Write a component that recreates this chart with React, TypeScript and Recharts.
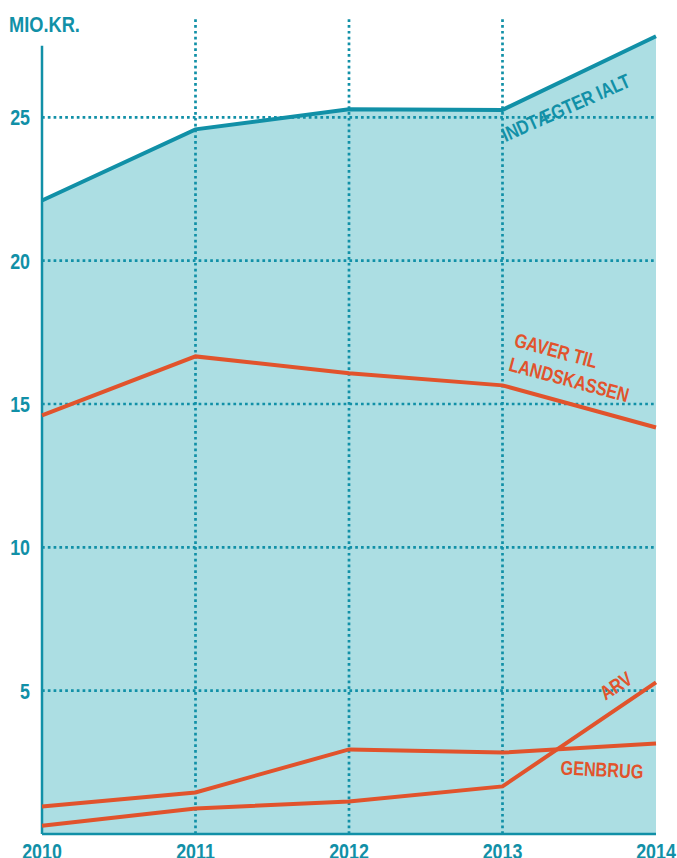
import React from "react";
import { ComposedChart, Area, Line, XAxis, YAxis, ReferenceLine } from "recharts";

const years = [2010, 2011, 2012, 2013, 2014];
const indtaegterIalt = [22.1, 24.58, 25.28, 25.26, 27.83];
const gaverTilLandskassen = [14.6, 16.66, 16.07, 15.65, 14.18];
const arv = [0.29, 0.89, 1.13, 1.66, 5.29];
const genbrug = [0.96, 1.45, 2.95, 2.84, 3.16];

const yTicks = [5, 10, 15, 20, 25];
const xGridYears = [2011, 2012, 2013];

const data = years.map((year, i) => ({
  year,
  indtaegter: indtaegterIalt[i],
  gaver: gaverTilLandskassen[i],
  arv: arv[i],
  genbrug: genbrug[i],
}));

const TEAL = "#1190a7";
const FILL = "#acdee3";
const ORANGE = "#e1532c";
const FONT = "'Liberation Sans', Arial, sans-serif";
const SX = 0.81;

const XTick = (props: any) => {
  const { x, payload } = props;
  return (
    <g transform={`translate(${x},859) scale(${SX},1)`}>
      <text x={0} y={0} textAnchor="middle" fill={TEAL} fontSize={22} fontWeight="bold" fontFamily={FONT}>
        {payload.value}
      </text>
    </g>
  );
};

const YTick = (props: any) => {
  const { x, y, payload } = props;
  return (
    <g transform={`translate(${x},${y + 8}) scale(${SX},1)`}>
      <text x={0} y={0} textAnchor="end" fill={TEAL} fontSize={22} fontWeight="bold" fontFamily={FONT}>
        {payload.value}
      </text>
    </g>
  );
};

const Label = ({ x, y, angle, color, size, children }: any) => (
  <g transform={`translate(${x},${y}) rotate(${angle}) scale(${SX},1)`}>
    <text x={0} y={0} textAnchor="middle" dominantBaseline="central" fill={color} fontSize={size} fontWeight="bold" fontFamily={FONT}>
      {children}
    </text>
  </g>
);

export default function App() {
  return (
    <div style={{ position: "absolute", left: 0, top: 0, width: 677, height: 858, overflow: "hidden", background: "#fff" }}>
      <ComposedChart
        width={677}
        height={858}
        data={data}
        margin={{ top: 17, right: 21, bottom: 0, left: 0 }}
      >
        <XAxis
          dataKey="year"
          type="number"
          domain={[2010, 2014]}
          ticks={years}
          height={24}
          tickLine={false}
          axisLine={{ stroke: TEAL, strokeWidth: 2.5 }}
          tick={<XTick />}
          interval={0}
        />
        <YAxis
          type="number"
          domain={[0, 28.5]}
          ticks={yTicks}
          width={42}
          axisLine={false}
          tickLine={false}
          tickMargin={6}
          tick={<YTick />}
        />
        <Area
          dataKey="indtaegter"
          type="linear"
          fill={FILL}
          fillOpacity={1}
          stroke="none"
          isAnimationActive={false}
        />
        {yTicks.map((t) => (
          <ReferenceLine
            key={"h" + t}
            y={t}
            stroke={TEAL}
            strokeWidth={2.7}
            strokeDasharray="2.7 3.1"
          />
        ))}
        {xGridYears.map((yr) => (
          <ReferenceLine
            key={"v" + yr}
            x={yr}
            stroke={TEAL}
            strokeWidth={2.7}
            strokeDasharray="2.7 3.1"
          />
        ))}
        <ReferenceLine
          segment={[{ x: 2010, y: 0 }, { x: 2010, y: 27.5 }]}
          stroke={TEAL}
          strokeWidth={2.5}
        />
        <Line dataKey="indtaegter" type="linear" stroke={TEAL} strokeWidth={4} dot={false} isAnimationActive={false} />
        <Line dataKey="gaver" type="linear" stroke={ORANGE} strokeWidth={4} dot={false} isAnimationActive={false} />
        <Line dataKey="arv" type="linear" stroke={ORANGE} strokeWidth={4} dot={false} isAnimationActive={false} />
        <Line dataKey="genbrug" type="linear" stroke={ORANGE} strokeWidth={4} dot={false} isAnimationActive={false} />
      </ComposedChart>
      <svg
        width={677}
        height={858}
        style={{ position: "absolute", left: 0, top: 0, pointerEvents: "none" }}
      >
        <g transform={`translate(9,32) scale(${SX},1)`}>
          <text x={0} y={0} fill={TEAL} fontSize={22.5} fontWeight="bold" fontFamily={FONT}>MIO.KR.</text>
        </g>
        <Label x={566} y={108} angle={-24} color={TEAL} size={20}>INDTÆGTER IALT</Label>
        <Label x={556} y={351} angle={15} color={ORANGE} size={20}>GAVER TIL</Label>
        <Label x={569} y={380} angle={15} color={ORANGE} size={20}>LANDSKASSEN</Label>
        <Label x={616} y={686} angle={-33} color={ORANGE} size={20}>ARV</Label>
        <Label x={602} y={770} angle={3} color={ORANGE} size={20}>GENBRUG</Label>
      </svg>
    </div>
  );
}
